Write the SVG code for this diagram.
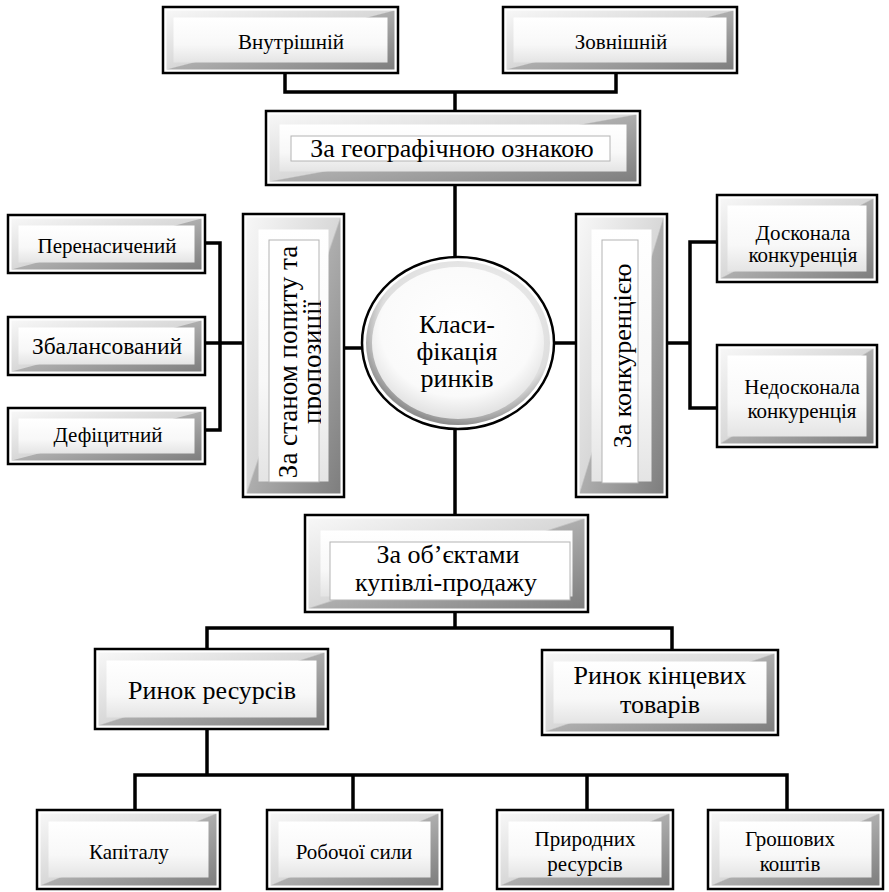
<svg xmlns="http://www.w3.org/2000/svg" width="889" height="892" viewBox="0 0 889 892" font-family="'Liberation Serif', serif">
<defs>
<linearGradient id="gBev" x1="0" y1="0" x2="1" y2="1">
<stop offset="0" stop-color="#f7f7f7"/>
<stop offset="0.495" stop-color="#d8d8d8"/>
<stop offset="0.505" stop-color="#adadad"/>
<stop offset="1" stop-color="#7e7e7e"/>
</linearGradient>
<linearGradient id="gFace" x1="0" y1="0" x2="0" y2="1">
<stop offset="0" stop-color="#ffffff"/>
<stop offset="0.6" stop-color="#f8f8f8"/>
<stop offset="1" stop-color="#e4e4e4"/>
</linearGradient>
<radialGradient id="gRing" cx="0.55" cy="0.4" r="0.6">
<stop offset="0" stop-color="#ffffff"/>
<stop offset="0.8" stop-color="#dedede"/>
<stop offset="1" stop-color="#8e8e8e"/>
</radialGradient>
<radialGradient id="gCirc" cx="0.5" cy="0.4" r="0.6">
<stop offset="0" stop-color="#ffffff"/>
<stop offset="0.75" stop-color="#fafafa"/>
<stop offset="1" stop-color="#e0e0e0"/>
</radialGradient>
<clipPath id="clipPop" clipPathUnits="userSpaceOnUse">
<rect x="262" y="236" width="59" height="250"/>
</clipPath>
</defs>
<style>
.frame{fill:#fff;stroke:#000;stroke-width:2.5}
.bev{fill:url(#gBev)}
.face{fill:url(#gFace)}
.lbl{fill:#fff;stroke:#b4b4b4;stroke-width:1}
text{font-family:'Liberation Serif',serif;fill:#000;text-anchor:middle}
.s21{font-size:21px}
.s23{font-size:23.5px}
.s26{font-size:26px}
.s27{font-size:27px}
#connectors path{fill:none;stroke:#000;stroke-width:3.5;stroke-linejoin:miter}
</style>

<g id="connectors">
<path d="M285,73 V92 H616 V73"/>
<path d="M455,92 V111"/>
<path d="M455,185 V257"/>
<path d="M344,348 H363"/>
<path d="M554,343 H576"/>
<path d="M667,343 H690"/>
<path d="M717,242 H690 V408 H717"/>
<path d="M205,243 H220 V430 H205"/>
<path d="M205,343 H243"/>
<path d="M455,429 V515"/>
<path d="M455,612 V628"/>
<path d="M207,649 V628 H672 V650"/>
<path d="M207,729 V775"/>
<path d="M135,810 V775 H787 V810"/>
<path d="M353,775 V810"/>
<path d="M587,775 V810"/>
</g>

<g id="n-vnutrishnii">
<rect class="frame" x="163" y="7" width="235" height="66"/>
<rect class="bev" x="166.5" y="10.5" width="228" height="59"/>
<rect class="face" x="173.5" y="17.5" width="214" height="45"/>
<text class="s21" x="291" y="49">Внутрішній</text>
</g>

<g id="n-zovnishnii">
<rect class="frame" x="503" y="7" width="234" height="66"/>
<rect class="bev" x="506.5" y="10.5" width="227" height="59"/>
<rect class="face" x="513.5" y="17.5" width="213" height="45"/>
<text class="s21" x="621" y="49">Зовнішній</text>
</g>

<g id="n-geo">
<rect class="frame" x="266" y="111" width="374" height="74"/>
<rect class="bev" x="269.5" y="114.5" width="367" height="67"/>
<rect class="face" x="279.5" y="124.5" width="347" height="47"/>
<rect class="lbl" x="291" y="136" width="319" height="25"/>
<text class="s26" x="452" y="157">За географічною ознакою</text>
</g>

<g id="n-popyt">
<rect class="frame" x="243" y="214" width="101" height="283"/>
<rect class="bev" x="246.5" y="217.5" width="94" height="276"/>
<rect class="face" x="258.5" y="229.5" width="70" height="252"/>
<rect class="lbl" x="269" y="240" width="50" height="242"/>
<g clip-path="url(#clipPop)">
<text class="s27" transform="translate(297,362) rotate(-90)">За станом попиту та</text>
<text class="s27" transform="translate(321,362) rotate(-90)">пропозиції</text>
</g>
</g>

<g id="n-konk">
<rect class="frame" x="576" y="214" width="91" height="283"/>
<rect class="bev" x="579.5" y="217.5" width="84" height="276"/>
<rect class="face" x="591.5" y="229.5" width="60" height="252"/>
<rect class="lbl" x="602" y="240" width="36" height="243"/>
<text class="s26" transform="translate(631,356) rotate(-90)">За конкуренцією</text>
</g>

<g id="n-perenas">
<rect class="frame" x="8" y="215" width="197" height="58"/>
<rect class="bev" x="11.5" y="218.5" width="190" height="51"/>
<rect class="face" x="18.5" y="225.5" width="176" height="37"/>
<text class="s21" x="107" y="253">Перенасичений</text>
</g>

<g id="n-zbalans">
<rect class="frame" x="8" y="317" width="197" height="58"/>
<rect class="bev" x="11.5" y="320.5" width="190" height="51"/>
<rect class="face" x="18.5" y="327.5" width="176" height="37"/>
<text class="s23" x="107" y="354">Збалансований</text>
</g>

<g id="n-defits">
<rect class="frame" x="8" y="408" width="197" height="56"/>
<rect class="bev" x="11.5" y="411.5" width="190" height="49"/>
<rect class="face" x="18.5" y="418.5" width="176" height="35"/>
<text class="s21" x="108" y="442">Дефіцитний</text>
</g>

<g id="n-doskon">
<rect class="frame" x="717" y="195" width="160" height="87"/>
<rect class="bev" x="720.5" y="198.5" width="153" height="80"/>
<rect class="face" x="727.5" y="205.5" width="139" height="66"/>
<text class="s21" x="803" y="240">Досконала</text>
<text class="s21" x="803" y="262">конкуренція</text>
</g>

<g id="n-nedoskon">
<rect class="frame" x="717" y="345" width="160" height="102"/>
<rect class="bev" x="720.5" y="348.5" width="153" height="95"/>
<rect class="face" x="727.5" y="355.5" width="139" height="81"/>
<text class="s21" x="802" y="394">Недосконала</text>
<text class="s21" x="802" y="418">конкуренція</text>
</g>

<g id="n-center">
<ellipse class="frame" cx="458" cy="343" rx="96" ry="86"/>
<ellipse cx="458" cy="343" rx="92" ry="82" fill="url(#gRing)"/>
<ellipse cx="458" cy="343" rx="86" ry="76" fill="url(#gCirc)"/>
<text class="s26" x="457" y="333">Класи-</text>
<text class="s26" x="457" y="360">фікація</text>
<text class="s26" x="457" y="387">ринків</text>
</g>

<g id="n-obj">
<rect class="frame" x="305" y="515" width="283" height="97"/>
<rect class="bev" x="308.5" y="518.5" width="276" height="90"/>
<rect class="face" x="320.5" y="530.5" width="252" height="66"/>
<rect class="lbl" x="330" y="542" width="240" height="58"/>
<text class="s26" x="448" y="563">За об’єктами</text>
<text class="s26" x="446" y="591">купівлі-продажу</text>
</g>

<g id="n-resursy">
<rect class="frame" x="95" y="649" width="233" height="80"/>
<rect class="bev" x="98.5" y="652.5" width="226" height="73"/>
<rect class="face" x="106.5" y="660.5" width="210" height="57"/>
<text class="s26" x="212" y="699">Ринок ресурсів</text>
</g>

<g id="n-kintsevi">
<rect class="frame" x="542" y="650" width="236" height="85"/>
<rect class="bev" x="545.5" y="653.5" width="229" height="78"/>
<rect class="face" x="553.5" y="661.5" width="213" height="62"/>
<text class="s26" x="660" y="684">Ринок кінцевих</text>
<text class="s26" x="660" y="713">товарів</text>
</g>

<g id="n-kapital">
<rect class="frame" x="37" y="810" width="183" height="79"/>
<rect class="bev" x="40.5" y="813.5" width="176" height="72"/>
<rect class="face" x="48.5" y="821.5" width="160" height="56"/>
<text class="s21" x="129" y="859">Капіталу</text>
</g>

<g id="n-robocha">
<rect class="frame" x="267" y="810" width="175" height="79"/>
<rect class="bev" x="270.5" y="813.5" width="168" height="72"/>
<rect class="face" x="278.5" y="821.5" width="152" height="56"/>
<text class="s21" x="354" y="859">Робочої сили</text>
</g>

<g id="n-pryrodni">
<rect class="frame" x="497" y="810" width="176" height="79"/>
<rect class="bev" x="500.5" y="813.5" width="169" height="72"/>
<rect class="face" x="508.5" y="821.5" width="153" height="56"/>
<text class="s21" x="585" y="846">Природних</text>
<text class="s21" x="585" y="871">ресурсів</text>
</g>

<g id="n-groshovi">
<rect class="frame" x="708" y="810" width="175" height="79"/>
<rect class="bev" x="711.5" y="813.5" width="168" height="72"/>
<rect class="face" x="719.5" y="821.5" width="152" height="56"/>
<text class="s21" x="790" y="846">Грошових</text>
<text class="s21" x="790" y="871">коштів</text>
</g>
</svg>
